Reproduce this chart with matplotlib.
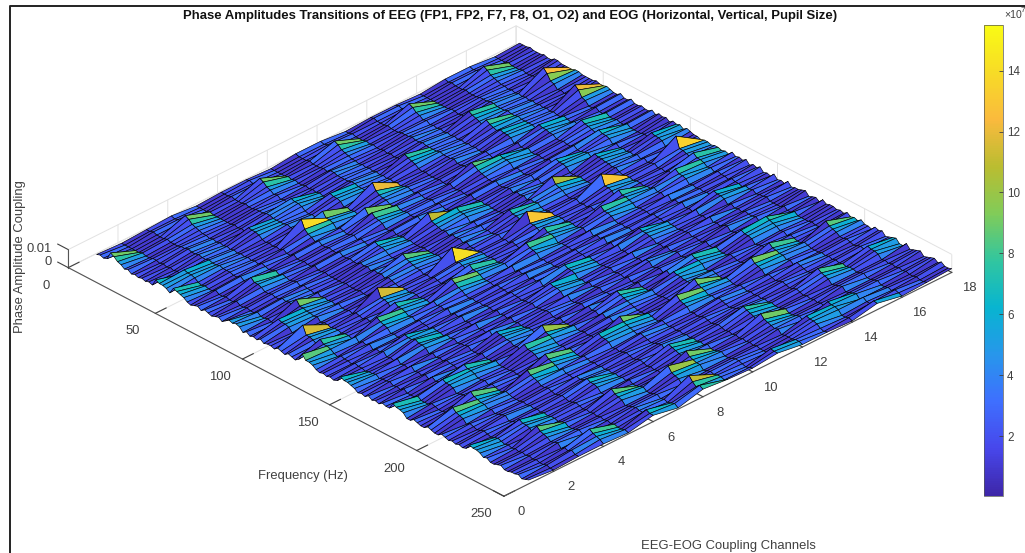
import numpy as np
import matplotlib
matplotlib.use("Agg")
from matplotlib import pyplot as plt
from matplotlib.colors import LinearSegmentedColormap, Normalize
from matplotlib.cm import ScalarMappable
from matplotlib.lines import Line2D
from mpl_toolkits.mplot3d import Axes3D

plt.rcParams['font.family'] = ['Liberation Sans', 'DejaVu Sans']

W, H = 1025, 553
GRAY = '#404040'

channels = np.arange(1, 19)
bin_hz = 2.0

# background level per frequency bin (rows) and channel (columns), colorbar units
background = [
    "212 312 213 312 213 312", "312 212 312 213 312 212", "213 312 212 322 213 312", "312 213 312 212 312 213", "212 322 213 312 212 322",
    "312 212 322 213 312 212", "223 312 212 322 213 312", "312 213 322 212 312 213", "212 312 213 322 212 322", "322 212 312 213 322 212",
    "123 213 124 213 123 214", "213 123 214 123 213 124", "124 213 123 214 123 213", "213 124 213 123 214 123", "123 214 123 213 124 213",
    "214 123 213 124 213 123", "123 213 124 213 123 214", "213 123 214 123 213 124", "124 213 123 213 124 213", "213 124 213 123 213 123",
    "123 213 123 214 123 213", "214 123 213 123 214 123", "123 214 123 213 123 214", "213 123 214 123 213 123", "123 213 123 214 123 213",
    "312 134 212 312 123 134", "212 312 134 212 312 123", "134 212 312 123 212 312", "212 134 212 312 134 212", "312 212 134 212 312 134",
    "123 312 212 134 212 312", "312 123 312 212 134 212", "212 312 123 312 212 134", "134 212 312 123 312 212", "212 134 212 312 123 312",
    "312 212 134 212 312 123", "123 312 212 134 212 312", "312 123 312 212 134 212", "212 312 123 312 212 134", "134 212 312 123 312 212",
    "113 214 122 314 113 214", "214 113 214 122 314 113", "122 314 113 214 122 314", "314 122 214 113 214 122", "113 214 122 314 113 214",
    "214 113 314 122 214 113", "122 214 113 314 122 214", "314 122 214 113 314 122", "113 314 122 214 113 314", "214 113 314 122 214 113",
    "221 132 312 221 132 312", "132 221 132 312 221 132", "312 132 221 132 312 221", "221 312 132 221 132 312", "132 221 312 132 221 132",
    "312 132 221 312 132 221", "221 312 132 221 312 132", "132 221 312 132 221 312", "312 132 221 312 132 221", "221 312 132 221 312 132",
    "124 221 113 232 124 221", "221 124 221 113 232 124", "113 232 124 221 113 232", "232 113 221 124 221 113", "124 232 113 221 124 232",
    "221 124 232 113 221 124", "113 221 124 232 113 221", "232 113 221 124 232 113", "124 232 113 221 124 232", "221 124 232 113 221 124",
    "312 121 224 131 312 121", "121 312 121 224 131 312", "224 131 312 121 224 131", "131 224 121 312 121 224", "312 131 224 121 312 131",
    "121 312 131 224 121 312", "224 121 312 131 224 121", "131 224 121 312 131 224", "312 131 224 121 312 131", "121 312 131 224 121 312",
    "213 212 131 314 213 212", "131 213 212 131 314 213", "314 131 213 212 131 314", "212 314 131 213 212 131", "213 212 314 131 213 212",
    "131 213 212 314 131 213", "314 131 213 212 314 131", "212 314 131 213 212 314", "213 212 314 131 213 212", "131 213 212 314 131 213",
    "122 313 124 212 122 313", "313 122 212 124 313 122", "212 313 122 124 212 313", "124 212 313 122 124 212", "122 124 212 313 122 124",
    "313 122 124 212 313 122", "212 313 122 124 212 313", "124 212 313 122 124 212", "122 124 212 313 122 124", "313 122 124 212 313 122",
    "231 122 213 124 231 122", "122 231 122 213 124 231", "213 124 231 122 213 124", "124 213 122 231 122 213", "231 124 213 122 231 124",
    "122 231 124 213 122 231", "213 122 231 124 213 122", "124 213 122 231 124 213", "231 124 213 122 231 124", "122 231 124 213 122 231",
    "114 221 312 123 114 221", "221 114 123 312 221 114", "312 221 114 123 312 221", "123 312 221 114 123 312", "114 123 312 221 114 123",
    "221 114 123 312 221 114", "312 221 114 123 312 221", "123 312 221 114 123 312", "114 123 312 221 114 123", "221 114 123 312 221 114",
    "213 123 212 312 124 212", "312 213 123 212 312 124", "124 312 213 123 212 312", "212 124 312 213 123 212", "312 212 124 312 213 123",
]

# spikes: bin index, channel, peak value, value of the next bin
peak_bin = [5, 5, 5, 5, 5, 5, 15, 24, 24, 23, 23, 28, 30, 15, 20, 18, 30, 46, 53,
            24, 28, 33, 38, 31, 40, 44, 39, 40, 53, 53, 53, 46, 58, 60,
            53, 58, 60, 31, 44, 38, 18, 19, 23,
            14, 16, 18, 48, 58, 60, 58, 60, 58, 60,
            46, 71, 71, 86, 86, 94, 96, 86, 71, 96, 108,
            53, 58, 60, 68, 71, 80, 86, 88, 94, 96, 85, 86, 94, 96, 86, 71, 113, 108, 108,
            94, 94, 96, 86, 108, 113, 115, 121, 124, 113, 108, 113, 123, 95, 74, 88, 106, 123, 121, 46, 39, 108, 124, 119, 118]
peak_channel = [1, 4, 7, 10, 13, 16, 17, 17, 6, 9, 7, 8, 8, 14, 14, 11, 12, 13, 14,
                14, 15, 16, 16, 13, 14, 15, 9, 10, 8, 11, 17, 7, 8, 7,
                5, 5, 4, 3, 3, 7, 1, 2, 1,
                7, 5, 8, 11, 17, 16, 14, 13, 11, 10,
                17, 13, 16, 16, 15, 15, 14, 13, 10, 17, 15,
                2, 2, 1, 4, 4, 6, 7, 6, 6, 5, 4, 3, 3, 2, 1, 1, 3, 3, 1,
                9, 12, 11, 10, 9, 9, 8, 8, 8, 6, 12, 12, 11, 8, 9, 12, 6, 6, 4, 2, 1, 17, 15, 13, 14]
peak_value = [9, 9, 9, 9, 9, 9, 12.5, 12, 14, 12, 9, 9, 8, 7.5, 8, 7.5, 8.5, 10.5, 13,
              6, 6, 7, 6.5, 6, 6, 6, 11, 7, 14, 13, 13.5, 8.5, 7.5, 9,
              11.5, 7, 8, 7.5, 9, 6.5, 6.5, 6, 7,
              6, 5.5, 6, 7, 7.5, 7.5, 7.5, 7.5, 7.5, 8,
              6, 6, 6, 7.5, 6.5, 8, 9, 7, 6.5, 8.5, 8,
              11.5, 7.5, 8.5, 6, 6.5, 6, 10, 7.5, 8.5, 8.5, 7, 6.5, 8.5, 8.5, 7, 6.5, 8.5, 6.5, 6,
              9, 9, 9, 7.5, 7, 9, 10, 11, 7.5, 8.5, 7.5, 9, 5.5, 6.5, 6, 6, 6.5, 6.5, 8, 6, 5, 6, 5.5, 6, 6]
peak_next = [7.5, 7.5, 7.5, 7.5, 7.5, 7.5, 9.5, 9.5, 7.5, 7, 5, 5, 5.5, 6, 6, 6, 7, 6, 5,
             5, 5, 5.5, 5, 5, 5, 5, 6, 5, 3.5, 5, 5, 6, 5, 7,
             5, 5, 6, 5, 5, 5, 5, 5, 6,
             5, 5, 5, 5, 5, 5, 5, 5, 5, 5.5,
             5, 5, 5, 6, 5, 5.5, 6, 5.5, 5, 6, 6,
             5, 5, 5, 5, 5, 5, 6, 5, 6, 6, 5, 5, 6, 6, 5.5, 5, 6, 5, 5,
             6, 6, 6, 6, 6, 6, 6, 7.5, 6, 6, 6, 6, 5, 5, 5, 5, 5, 5, 6, 5, 4, 5, 5, 5, 5]
# lighter stripes seen in the bins just below a spike
stripe_levels = [5, 4]

freq_ticks = [0, 50, 100, 150, 200, 250]
channel_ticks = [0, 2, 4, 6, 8, 10, 12, 14, 16, 18]
coupling_ticks = [0, 0.01]
coupling_tick_labels = ['0', '0.01']
colorbar_ticks = [2, 4, 6, 8, 10, 12, 14]

parula = LinearSegmentedColormap.from_list('parula', [
    (0.2422, 0.1504, 0.6603), (0.2803, 0.2782, 0.9221), (0.2440, 0.4358, 0.9988),
    (0.1540, 0.5902, 0.9218), (0.0297, 0.7082, 0.8163), (0.1938, 0.7758, 0.6251),
    (0.5044, 0.7993, 0.3480), (0.7300, 0.7400, 0.1900), (0.9800, 0.7300, 0.2400),
    (0.9700, 0.8600, 0.1500), (0.9769, 0.9839, 0.0805)])
norm = Normalize(0.03, 15.5)

amp = np.array([[int(d) for d in row.replace(' ', '')] for row in background], dtype=float)
for b, c in zip(peak_bin, peak_channel):
    for k, level in enumerate(stripe_levels):
        if b + 1 + k < amp.shape[0]:
            amp[b + 1 + k, c - 1] = level
for b, c, v, nxt in zip(peak_bin, peak_channel, peak_value, peak_next):
    amp[b - 1, c - 1] = v
    amp[b, c - 1] = nxt

freq = np.arange(1, amp.shape[0] + 1) * bin_hz
X, Y = np.meshgrid(channels, freq)
# colorbar units to coupling height
Z = amp * 0.0007

fig = plt.figure(figsize=(W / 100, H / 100), dpi=100)

# square axes, placed so the plot box lands where it is in the figure
side = 858
ax = fig.add_axes([69.4 / W, -148.6 / H, side / W, side / H], projection='3d')
ax.patch.set_alpha(0)
ax.set_proj_type('ortho')
ax.view_init(elev=30.8, azim=-44.3)
ax.set_box_aspect((624, 626, 21))

surf = ax.plot_surface(Y, X, Z, facecolors=parula(norm(amp)), rstride=1, cstride=1,
                       shade=False, edgecolor='black', linewidth=0.45)
surf.set_clip_on(False)

ax.set_xlim(0, 250, view_margin=0)
ax.set_ylim(0, 18, view_margin=0)
ax.set_zlim(0, 0.01, view_margin=0)
ax.set_xticks(freq_ticks)
ax.set_yticks(channel_ticks)
ax.set_zticks(coupling_ticks, coupling_tick_labels)

ax.zaxis._axinfo['juggled'] = (1, 2, 0)
for axis in (ax.xaxis, ax.yaxis, ax.zaxis):
    axis.set_pane_color((1, 1, 1, 0))
    axis.pane.set_edgecolor('#dddddd')
    axis.line.set_color('#555555')
    axis.line.set_linewidth(0.8)
    axis._axinfo['grid'].update(color='#e2e2e2', linewidth=0.7)
    axis._axinfo['tick']['inward_factor'] = 0
    axis._axinfo['tick']['outward_factor'] = 0.3
ax.tick_params(axis='x', colors=GRAY, labelsize=9.4, pad=8)
ax.tick_params(axis='y', colors=GRAY, labelsize=9.4, pad=5)
ax.tick_params(axis='z', colors=GRAY, labelsize=9.4, pad=-2)
z_ticks = ax.zaxis.get_major_ticks()
z_ticks[0].label1.set_va('bottom')
z_ticks[1].label1.set_va('center')
for tick in z_ticks:
    tick.label1.set_ha('right')

fig.text(510 / W, 1 - 16 / H, 'Phase Amplitudes Transitions of EEG (FP1, FP2, F7, F8, O1, O2) and EOG (Horizontal, Vertical, Pupil Size)',
         ha='center', va='center', fontsize=9.43, fontweight='bold', color='#111111')
fig.text(20 / W, 1 - 257 / H, 'Phase Amplitude Coupling', rotation=90, ha='center', va='center', fontsize=9.4, color=GRAY)
fig.text(303 / W, 1 - 476 / H, 'Frequency (Hz)', ha='center', va='center', fontsize=9.4, color=GRAY)
fig.text(728 / W, 1 - 546 / H, 'EEG-EOG Coupling Channels', ha='center', va='center', fontsize=9.4, color=GRAY)

# colorbar
cax = fig.add_axes([984 / W, 1 - 496 / H, 19 / W, 471 / H])
cb = fig.colorbar(ScalarMappable(norm=norm, cmap=parula), cax=cax, ticks=colorbar_ticks)
cb.ax.tick_params(direction='in', length=3, width=0.6, color=GRAY, labelcolor=GRAY, labelsize=8.4, pad=3)
cb.outline.set_edgecolor('#555555')
cb.outline.set_linewidth(0.5)
fig.text(1004 / W, 1 - 15 / H, '\u00d710', ha='left', va='center', fontsize=7.6, color=GRAY)
fig.text(1020.5 / W, 1 - 11 / H, '7', ha='left', va='center', fontsize=6, color=GRAY)

# frame left over from the window around the plot
fig.add_artist(Line2D([9.5 / W, 9.5 / W, 1], [0, 1 - 5.5 / H, 1 - 5.5 / H], color='#222222', lw=1.4))

fig.savefig('out.png', dpi=100)
